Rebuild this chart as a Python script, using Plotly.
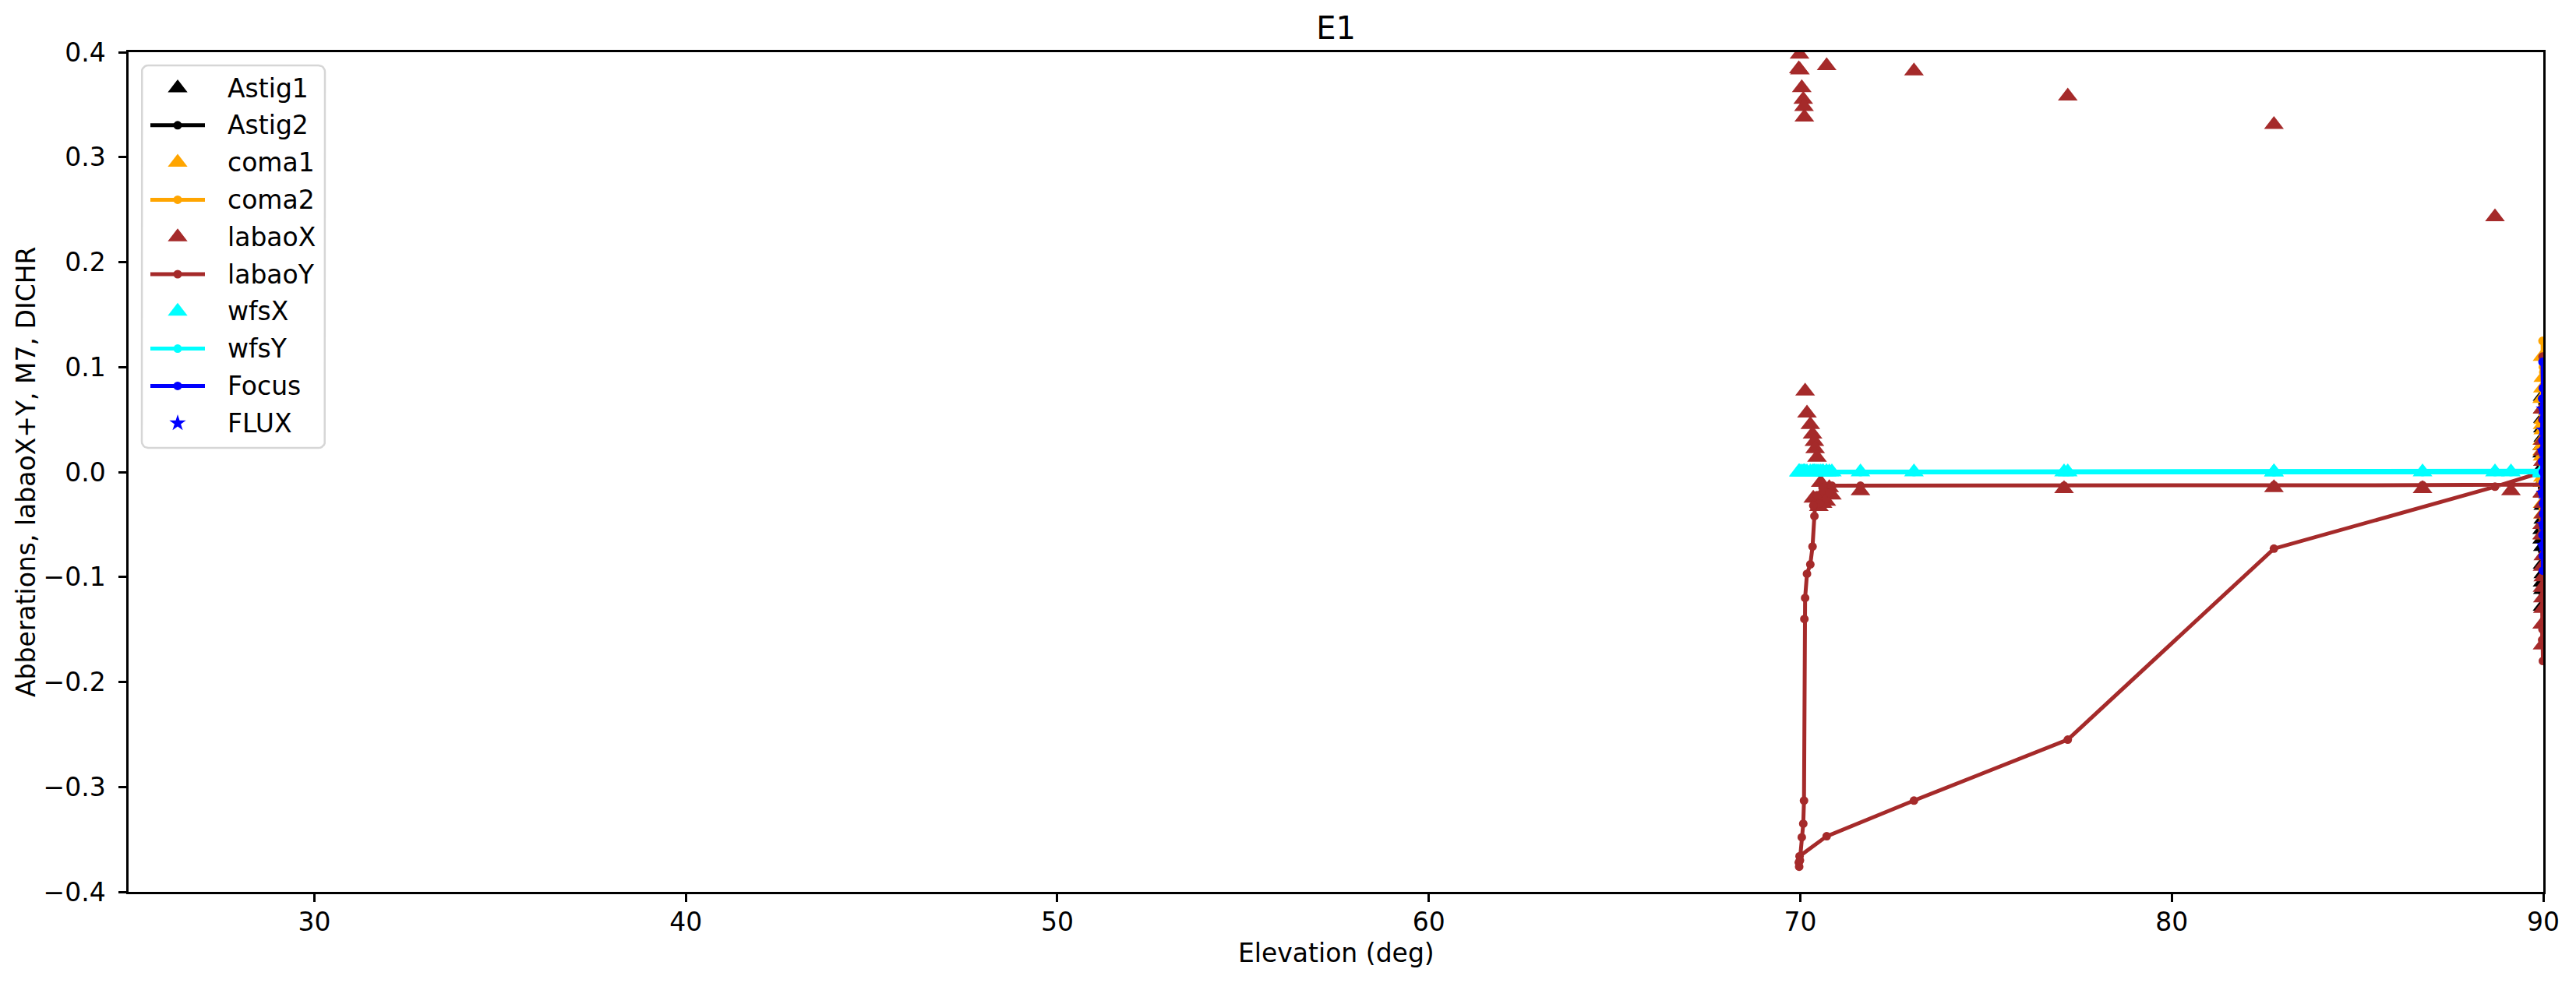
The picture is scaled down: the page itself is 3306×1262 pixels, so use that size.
import math
import plotly.graph_objects as go

# ---------------- data ----------------
# time-ordered track: zenith start, descent, dwell near 70 deg, ascent, zenith end
elev = [89.98, 89.99, 90.00, 89.97, 89.99, 89.98, 90.00, 89.99, 89.97, 89.99,
        88.70, 82.75, 77.20, 73.06, 70.71, 69.98,
        69.96, 69.97, 69.99, 70.04, 70.08, 70.10, 70.11, 70.13, 70.18, 70.27, 70.33,
        70.38, 70.40, 70.45, 70.55, 70.62, 70.70, 70.50, 70.78, 70.35, 70.60, 70.85,
        71.62, 77.10, 82.75, 86.75, 89.13,
        89.99, 89.98, 90.00, 89.97, 89.99, 89.98, 90.00, 89.99, 89.97, 89.98]

labaoX = [0.060, 0.020, -0.030, -0.060, 0.010, -0.090, -0.040, 0.030, -0.020, 0.000,
          0.243, 0.331, 0.358, 0.382, 0.387, 0.398,
          0.384, 0.405, 0.383, 0.366, 0.355, 0.348, 0.338, 0.077, 0.056, 0.045, 0.036,
          0.029, 0.022, 0.014, -0.010, -0.020, -0.028, -0.033, -0.015, -0.025, -0.030, -0.022,
          -0.018, -0.016, -0.015, -0.016, -0.018,
          -0.020, -0.060, -0.100, -0.145, -0.120, -0.165, -0.080, -0.130, -0.050, -0.110]

labaoY = [0.110, 0.080, 0.040, -0.020, 0.060, 0.030, -0.050, 0.020, 0.050, 0.000,
          -0.014, -0.073, -0.255, -0.313, -0.347, -0.366,
          -0.372, -0.376, -0.370, -0.348, -0.335, -0.313, -0.140, -0.120, -0.097, -0.088, -0.071,
          -0.042, -0.030, -0.022, -0.028, -0.018, -0.025, -0.030, -0.020, -0.032, -0.015, -0.013,
          -0.013, -0.013, -0.0125, -0.0125, -0.012,
          -0.012, -0.040, -0.090, -0.130, -0.180, -0.150, -0.070, -0.110, -0.160, -0.100]

wfsX = [0.000, 0.000, 0.001, 0.000, -0.001, 0.000, 0.000, 0.001, 0.000, 0.000,
        0.000, 0.000, 0.000, 0.000, 0.000, 0.000,
        0.000, 0.000, 0.000, 0.000, 0.000, 0.000, 0.000, 0.000, 0.000, 0.000, 0.000,
        0.000, 0.000, 0.000, 0.000, 0.000, 0.000, 0.000, 0.000, 0.000, 0.000, 0.000,
        0.000, 0.000, 0.000, 0.000, 0.000,
        0.000, 0.001, 0.000, 0.000, -0.001, 0.000, 0.000, 0.000, 0.001, 0.000]

wfsY = [0.000, 0.000, -0.001, 0.000, 0.001, 0.000, 0.000, 0.000, 0.000, 0.000,
        0.000, 0.000, 0.000, 0.000, 0.000, 0.000,
        0.000, 0.000, 0.000, 0.000, 0.000, 0.000, 0.000, 0.000, 0.000, 0.000, 0.000,
        0.000, 0.000, 0.000, 0.000, 0.000, 0.000, 0.000, 0.000, 0.000, 0.000, 0.000,
        0.000, 0.000, 0.000, 0.000, 0.000,
        0.000, 0.000, 0.001, 0.000, 0.000, -0.001, 0.000, 0.000, 0.000, 0.000]

# zenith-only series
zen_elev = [89.98, 89.99, 90.00, 89.97, 89.99, 89.98, 90.00, 89.99, 89.97, 89.99,
            89.99, 89.98, 90.00, 89.97, 89.99, 89.98, 90.00, 89.99, 89.97, 89.98]
astig1 = [0.072, 0.051, 0.033, 0.018, 0.060, -0.010, -0.032, 0.042, -0.055, -0.071,
          0.005, -0.088, -0.097, -0.064, -0.112, -0.128, -0.045, -0.020, 0.025, -0.105]
astig2 = [0.065, 0.040, 0.012, -0.015, 0.030, -0.040, -0.060, 0.020, -0.080, -0.090,
          -0.020, -0.100, -0.110, -0.075, -0.120, -0.115, -0.050, -0.030, 0.010, -0.095]
coma1 = [0.110, 0.080, 0.050, 0.020, -0.010, -0.030, -0.050, 0.060, 0.030, -0.020,
         0.000, -0.060, 0.040, 0.070, -0.040, 0.015, 0.090, -0.005, 0.025, 0.045]
coma2 = [0.125, 0.100, 0.070, 0.040, 0.010, -0.020, -0.045, 0.055, 0.020, -0.030,
         0.005, -0.055, 0.035, 0.080, -0.035, 0.010, 0.095, 0.000, 0.030, 0.060]
focus = [0.105, 0.080, 0.050, 0.020, -0.010, 0.030, -0.040, 0.060, -0.020, 0.000,
         -0.050, -0.070, -0.030, 0.010, -0.094, -0.060, 0.040, -0.080, 0.070, 0.020]
flux_elev = [89.99, 90.00, 89.99, 90.00, 89.99, 90.00]
flux = [0.060, 0.020, -0.020, -0.050, 0.040, -0.070]

series_names = ["Astig1", "Astig2", "coma1", "coma2", "labaoX", "labaoY", "wfsX", "wfsY", "Focus", "FLUX"]
x_ticks = [30, 40, 50, 60, 70, 80, 90]
y_ticks = [-0.4, -0.3, -0.2, -0.1, 0.0, 0.1, 0.2, 0.3, 0.4]
title_text = "E1"
x_title = "Elevation (deg)"
y_title = "Abberations, labaoX+Y, M7, DICHR"

# ---------------- styling / geometry ----------------
BLACK, ORANGE, BROWN, CYAN, BLUE = "#000000", "#FFA500", "#A52A2A", "#00FFFF", "#0000FF"
TRI, DOT, LW = 22, 11, 5
FONT = "DejaVu Sans"
W, H = 3306, 1262
OFF = 8                      # default body margin of the html page
PL, PR, PT, PB = 165, 3264, 67, 1145   # plot area in page pixels

def px_x(p):
    return (p - PL) / (PR - PL)

def px_y(p):
    return (PB - p) / (PB - PT)

fig = go.Figure()

def tri(name, x, y, c):
    fig.add_trace(go.Scatter(x=x, y=y, name=name, mode="markers", showlegend=False,
                             marker=dict(symbol="triangle-up", size=TRI, color=c, line=dict(width=0))))

def lin(name, x, y, c, lw=LW):
    fig.add_trace(go.Scatter(x=x, y=y, name=name, mode="lines+markers", showlegend=False,
                             line=dict(color=c, width=lw),
                             marker=dict(symbol="circle", size=DOT, color=c, line=dict(width=0))))

tri("Astig1", zen_elev, astig1, BLACK)
lin("Astig2", zen_elev, astig2, BLACK)
tri("coma1", zen_elev, coma1, ORANGE)
lin("coma2", zen_elev, coma2, ORANGE)
tri("labaoX", elev, labaoX, BROWN)
lin("labaoY", elev, labaoY, BROWN)
tri("wfsX", elev, wfsX, CYAN)
lin("wfsY", elev, wfsY, CYAN, lw=6)
lin("Focus", zen_elev, focus, BLUE)
fig.add_trace(go.Scatter(x=flux_elev, y=flux, name="FLUX", mode="markers", showlegend=False,
                         marker=dict(symbol="star", size=14, color=BLUE, line=dict(width=0))))

# ---------------- legend (drawn on a pixel overlay axis) ----------------
LX0, LX1, LY0, LY1, RAD = 182, 417, 84, 575, 8
ROW0, ROWGAP = 113, 47.8
SYM_X, LINE_X0, LINE_X1, TXT_X = 228, 193, 263, 290

bx, by = [], []
corners = [(LX1 - RAD, LY0 + RAD, -90, 0), (LX1 - RAD, LY1 - RAD, 0, 90),
           (LX0 + RAD, LY1 - RAD, 90, 180), (LX0 + RAD, LY0 + RAD, 180, 270)]
for cx, cy, a0, a1 in corners:
    for k in range(7):
        a = math.radians(a0 + (a1 - a0) * k / 6)
        bx.append(cx + RAD * math.cos(a))
        by.append(cy + RAD * math.sin(a))
bx.append(bx[0]); by.append(by[0])
fig.add_trace(go.Scatter(x=bx, y=by, xaxis="x2", yaxis="y2", mode="lines", fill="toself",
                         fillcolor="rgba(255,255,255,0.8)", line=dict(color="#d6d6d6", width=2.5),
                         showlegend=False, hoverinfo="skip"))

legend_style = {
    "Astig1": ("tri", BLACK), "Astig2": ("line", BLACK),
    "coma1": ("tri", ORANGE), "coma2": ("line", ORANGE),
    "labaoX": ("tri", BROWN), "labaoY": ("line", BROWN),
    "wfsX": ("tri", CYAN), "wfsY": ("line", CYAN),
    "Focus": ("line", BLUE), "FLUX": ("star", BLUE),
}
annotations = []
for i, name in enumerate(series_names):
    yc = ROW0 + i * ROWGAP
    kind, col = legend_style[name]
    if kind == "tri":
        fig.add_trace(go.Scatter(x=[SYM_X], y=[yc], xaxis="x2", yaxis="y2", mode="markers",
                                 marker=dict(symbol="triangle-up", size=TRI, color=col, line=dict(width=0)),
                                 showlegend=False, hoverinfo="skip"))
    elif kind == "star":
        fig.add_trace(go.Scatter(x=[SYM_X], y=[yc], xaxis="x2", yaxis="y2", mode="markers",
                                 marker=dict(symbol="star", size=16, color=col, line=dict(width=0)),
                                 showlegend=False, hoverinfo="skip"))
    else:
        fig.add_trace(go.Scatter(x=[LINE_X0, LINE_X1], y=[yc, yc], xaxis="x2", yaxis="y2", mode="lines",
                                 line=dict(color=col, width=LW), showlegend=False, hoverinfo="skip"))
        fig.add_trace(go.Scatter(x=[SYM_X], y=[yc], xaxis="x2", yaxis="y2", mode="markers",
                                 marker=dict(symbol="circle", size=DOT, color=col, line=dict(width=0)),
                                 showlegend=False, hoverinfo="skip"))
    annotations.append(dict(text=name, x=TXT_X, y=yc, xref="x2", yref="y2", xanchor="left",
                            yanchor="middle", showarrow=False,
                            font=dict(family=FONT, size=33, color="black")))

# axis titles placed at measured pixel positions
annotations.append(dict(text=x_title, x=px_x((PL + PR) / 2), y=px_y(1224), xref="paper", yref="paper",
                        xanchor="center", yanchor="middle", showarrow=False,
                        font=dict(family=FONT, size=33, color="black")))
annotations.append(dict(text=y_title, x=px_x(33), y=px_y((PT + PB) / 2), xref="paper", yref="paper",
                        xanchor="center", yanchor="middle", textangle=-90, showarrow=False,
                        font=dict(family=FONT, size=33, color="black")))

fig.update_layout(
    width=W - OFF, height=H - OFF,
    margin=dict(l=PL - OFF, r=W - PR, t=PT - OFF, b=H - PB, pad=0),
    template="none",
    paper_bgcolor="white", plot_bgcolor="white",
    font=dict(family=FONT, size=33, color="black"),
    title=dict(text=title_text, x=0.5, xref="paper", xanchor="center",
               y=1 - (36 - OFF) / (H - OFF), yref="container", yanchor="middle",
               font=dict(family=FONT, size=40, color="black")),
    showlegend=False,
    annotations=annotations,
    xaxis=dict(range=[25, 90], tickvals=x_ticks, ticks="outside", ticklen=10, tickwidth=2.5,
               tickcolor="black", showline=True, linecolor="black", linewidth=2.5, mirror=True,
               showgrid=False, zeroline=False, ticklabelstandoff=-2, automargin=False,
               tickfont=dict(family=FONT, size=33, color="black")),
    yaxis=dict(range=[-0.4, 0.4], tickvals=y_ticks, tickformat=".1f", ticks="outside", ticklen=10,
               tickwidth=2.5, tickcolor="black", showline=True, linecolor="black", linewidth=2.5,
               mirror=True, showgrid=False, zeroline=False, ticklabelstandoff=10, automargin=False,
               tickfont=dict(family=FONT, size=33, color="black")),
    xaxis2=dict(overlaying="x", anchor="y2", range=[PL, PR], visible=False, fixedrange=True),
    yaxis2=dict(overlaying="y", anchor="x2", range=[PB, PT], visible=False, fixedrange=True),
)

fig.write_html("out.html")
